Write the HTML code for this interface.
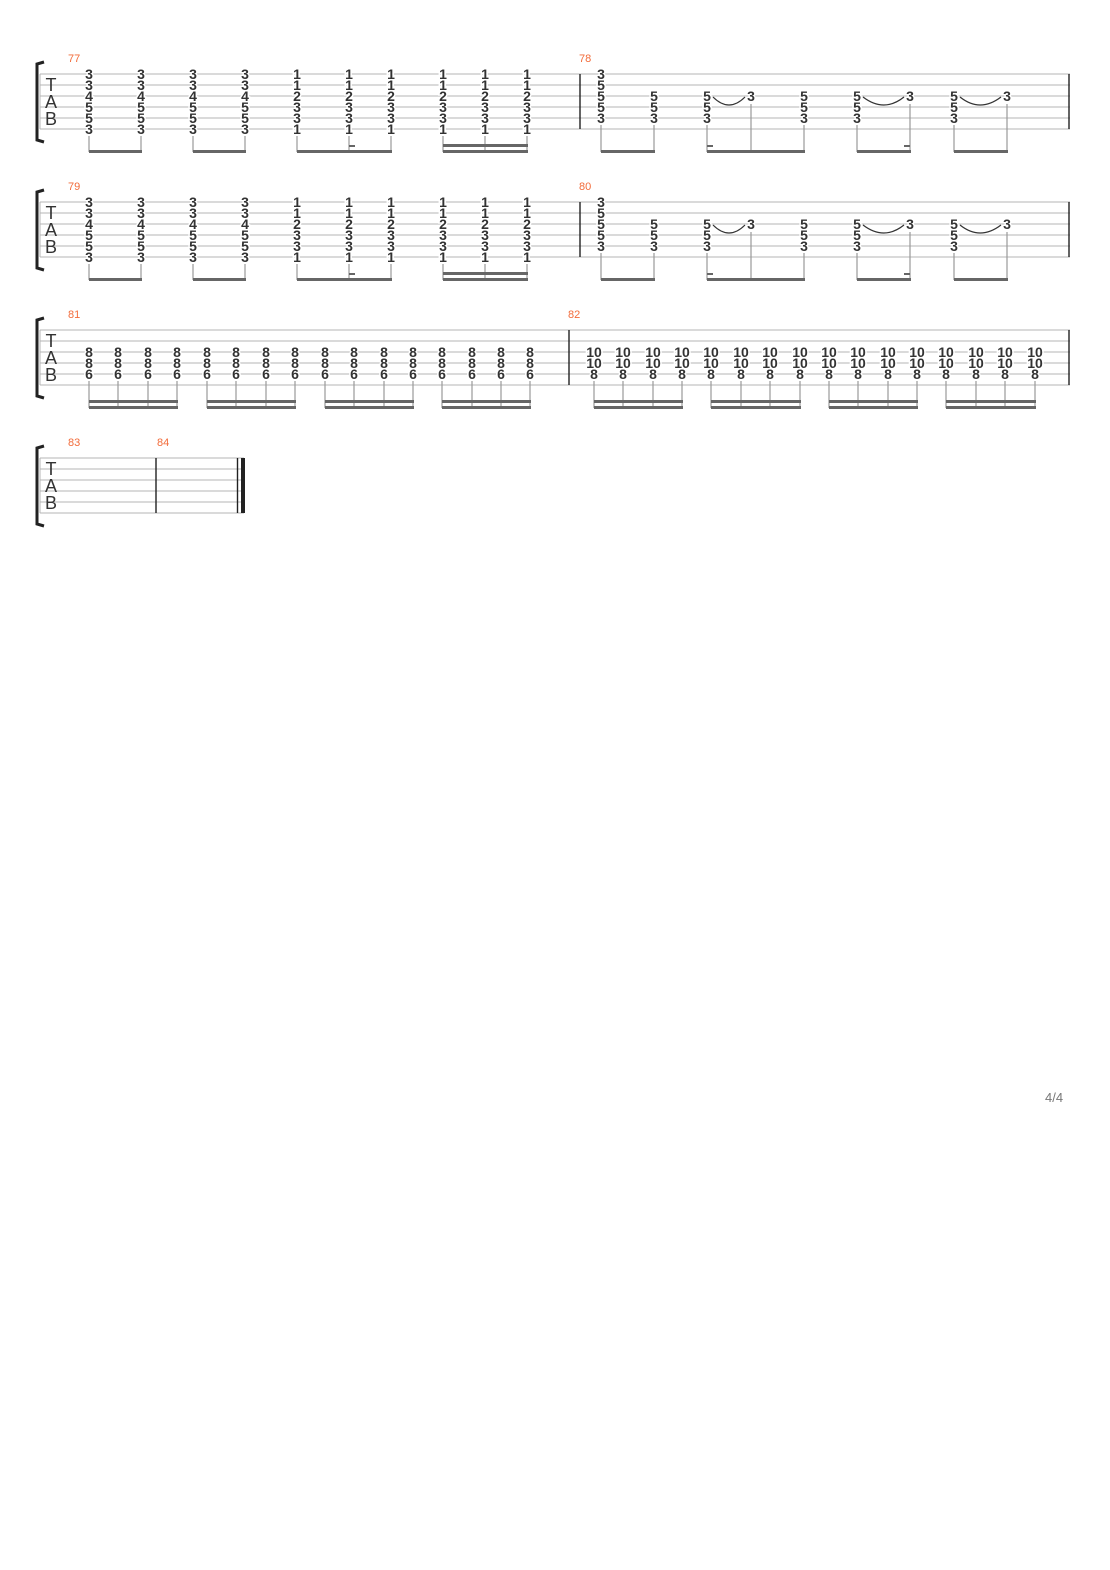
<!DOCTYPE html>
<html><head><meta charset="utf-8"><style>
html,body{margin:0;padding:0;background:#fff}
svg{display:block}
.n{font:bold 14px "Liberation Sans",sans-serif;text-anchor:middle;fill:#333;stroke:#fff;stroke-width:3;paint-order:stroke;transform:translateY(1px)}
.m{font:11px "Liberation Sans",sans-serif;fill:#f26b3a}
.t{font:18px "Liberation Sans",sans-serif;fill:#333;text-anchor:middle}
.l{stroke:#b4b4b4;stroke-width:1}
.b{stroke:#222;stroke-width:1.4}
.s{stroke:#999;stroke-width:1.2}
.bm{fill:#666}
</style></head><body>
<svg width="1110" height="1570" xmlns="http://www.w3.org/2000/svg">
<!-- System 1 -->
<g>
<path d="M44 62 L37 64 L37 140 L44 142" fill="none" stroke="#222" stroke-width="3"/>
<g class="l"><line x1="40" y1="74" x2="1070" y2="74"/><line x1="40" y1="85" x2="1070" y2="85"/><line x1="40" y1="96" x2="1070" y2="96"/><line x1="40" y1="107" x2="1070" y2="107"/><line x1="40" y1="118" x2="1070" y2="118"/><line x1="40" y1="129" x2="1070" y2="129"/><line x1="40" y1="74" x2="40" y2="129"/></g>
<line class="b" x1="580" y1="74" x2="580" y2="129"/><line class="b" x1="1069" y1="74" x2="1069" y2="129"/>
<text class="t" x="51" y="91">T</text><text class="t" x="51" y="108">A</text><text class="t" x="51" y="125">B</text>
<text class="m" x="68" y="62">77</text><text class="m" x="579" y="62">78</text>
<text class="n"><tspan x="89" y="78">3</tspan><tspan x="89" y="89">3</tspan><tspan x="89" y="100">4</tspan><tspan x="89" y="111">5</tspan><tspan x="89" y="122">5</tspan><tspan x="89" y="133">3</tspan></text>
<text class="n"><tspan x="141" y="78">3</tspan><tspan x="141" y="89">3</tspan><tspan x="141" y="100">4</tspan><tspan x="141" y="111">5</tspan><tspan x="141" y="122">5</tspan><tspan x="141" y="133">3</tspan></text>
<text class="n"><tspan x="193" y="78">3</tspan><tspan x="193" y="89">3</tspan><tspan x="193" y="100">4</tspan><tspan x="193" y="111">5</tspan><tspan x="193" y="122">5</tspan><tspan x="193" y="133">3</tspan></text>
<text class="n"><tspan x="245" y="78">3</tspan><tspan x="245" y="89">3</tspan><tspan x="245" y="100">4</tspan><tspan x="245" y="111">5</tspan><tspan x="245" y="122">5</tspan><tspan x="245" y="133">3</tspan></text>
<text class="n"><tspan x="297" y="78">1</tspan><tspan x="297" y="89">1</tspan><tspan x="297" y="100">2</tspan><tspan x="297" y="111">3</tspan><tspan x="297" y="122">3</tspan><tspan x="297" y="133">1</tspan></text>
<text class="n"><tspan x="349" y="78">1</tspan><tspan x="349" y="89">1</tspan><tspan x="349" y="100">2</tspan><tspan x="349" y="111">3</tspan><tspan x="349" y="122">3</tspan><tspan x="349" y="133">1</tspan></text>
<text class="n"><tspan x="391" y="78">1</tspan><tspan x="391" y="89">1</tspan><tspan x="391" y="100">2</tspan><tspan x="391" y="111">3</tspan><tspan x="391" y="122">3</tspan><tspan x="391" y="133">1</tspan></text>
<text class="n"><tspan x="443" y="78">1</tspan><tspan x="443" y="89">1</tspan><tspan x="443" y="100">2</tspan><tspan x="443" y="111">3</tspan><tspan x="443" y="122">3</tspan><tspan x="443" y="133">1</tspan></text>
<text class="n"><tspan x="485" y="78">1</tspan><tspan x="485" y="89">1</tspan><tspan x="485" y="100">2</tspan><tspan x="485" y="111">3</tspan><tspan x="485" y="122">3</tspan><tspan x="485" y="133">1</tspan></text>
<text class="n"><tspan x="527" y="78">1</tspan><tspan x="527" y="89">1</tspan><tspan x="527" y="100">2</tspan><tspan x="527" y="111">3</tspan><tspan x="527" y="122">3</tspan><tspan x="527" y="133">1</tspan></text>
<text class="n"><tspan x="601" y="78">3</tspan><tspan x="601" y="89">5</tspan><tspan x="601" y="100">5</tspan><tspan x="601" y="111">5</tspan><tspan x="601" y="122">3</tspan></text>
<text class="n"><tspan x="654" y="100">5</tspan><tspan x="654" y="111">5</tspan><tspan x="654" y="122">3</tspan></text>
<text class="n"><tspan x="707" y="100">5</tspan><tspan x="707" y="111">5</tspan><tspan x="707" y="122">3</tspan></text>
<text class="n"><tspan x="751" y="100">3</tspan></text>
<text class="n"><tspan x="804" y="100">5</tspan><tspan x="804" y="111">5</tspan><tspan x="804" y="122">3</tspan></text>
<text class="n"><tspan x="857" y="100">5</tspan><tspan x="857" y="111">5</tspan><tspan x="857" y="122">3</tspan></text>
<text class="n"><tspan x="910" y="100">3</tspan></text>
<text class="n"><tspan x="954" y="100">5</tspan><tspan x="954" y="111">5</tspan><tspan x="954" y="122">3</tspan></text>
<text class="n"><tspan x="1007" y="100">3</tspan></text>
<g fill="none" stroke="#333" stroke-width="1.2"><path d="M713 97 Q729 113 745 97"/><path d="M863 97 Q884 113 904 97"/><path d="M960 97 Q980 113 1001 97"/></g>
<g class="s"><line x1="89" y1="136" x2="89" y2="152"/><line x1="141" y1="136" x2="141" y2="152"/><line x1="193" y1="136" x2="193" y2="152"/><line x1="245" y1="136" x2="245" y2="152"/><line x1="297" y1="136" x2="297" y2="152"/><line x1="349" y1="136" x2="349" y2="152"/><line x1="391" y1="136" x2="391" y2="152"/><line x1="443" y1="136" x2="443" y2="152"/><line x1="485" y1="136" x2="485" y2="152"/><line x1="527" y1="136" x2="527" y2="152"/>
<line x1="601" y1="125" x2="601" y2="152"/><line x1="654" y1="125" x2="654" y2="152"/><line x1="707" y1="125" x2="707" y2="152"/><line x1="751" y1="104" x2="751" y2="152"/><line x1="804" y1="125" x2="804" y2="152"/><line x1="857" y1="125" x2="857" y2="152"/><line x1="910" y1="104" x2="910" y2="152"/><line x1="954" y1="125" x2="954" y2="152"/><line x1="1007" y1="104" x2="1007" y2="152"/></g>
<g class="bm"><rect x="89" y="150" width="53" height="3"/><rect x="193" y="150" width="53" height="3"/><rect x="297" y="150" width="95" height="3"/><rect x="349" y="145" width="6" height="2"/><rect x="443" y="144" width="85" height="3"/><rect x="443" y="150" width="85" height="3"/>
<rect x="601" y="150" width="54" height="3"/><rect x="707" y="150" width="98" height="3"/><rect x="707" y="145" width="6" height="2"/><rect x="857" y="150" width="54" height="3"/><rect x="904" y="145" width="6" height="2"/><rect x="954" y="150" width="54" height="3"/></g>
</g>
<!-- System 2 -->
<g transform="translate(0,128)">
<path d="M44 62 L37 64 L37 140 L44 142" fill="none" stroke="#222" stroke-width="3"/>
<g class="l"><line x1="40" y1="74" x2="1070" y2="74"/><line x1="40" y1="85" x2="1070" y2="85"/><line x1="40" y1="96" x2="1070" y2="96"/><line x1="40" y1="107" x2="1070" y2="107"/><line x1="40" y1="118" x2="1070" y2="118"/><line x1="40" y1="129" x2="1070" y2="129"/><line x1="40" y1="74" x2="40" y2="129"/></g>
<line class="b" x1="580" y1="74" x2="580" y2="129"/><line class="b" x1="1069" y1="74" x2="1069" y2="129"/>
<text class="t" x="51" y="91">T</text><text class="t" x="51" y="108">A</text><text class="t" x="51" y="125">B</text>
<text class="m" x="68" y="62">79</text><text class="m" x="579" y="62">80</text>
<text class="n"><tspan x="89" y="78">3</tspan><tspan x="89" y="89">3</tspan><tspan x="89" y="100">4</tspan><tspan x="89" y="111">5</tspan><tspan x="89" y="122">5</tspan><tspan x="89" y="133">3</tspan></text>
<text class="n"><tspan x="141" y="78">3</tspan><tspan x="141" y="89">3</tspan><tspan x="141" y="100">4</tspan><tspan x="141" y="111">5</tspan><tspan x="141" y="122">5</tspan><tspan x="141" y="133">3</tspan></text>
<text class="n"><tspan x="193" y="78">3</tspan><tspan x="193" y="89">3</tspan><tspan x="193" y="100">4</tspan><tspan x="193" y="111">5</tspan><tspan x="193" y="122">5</tspan><tspan x="193" y="133">3</tspan></text>
<text class="n"><tspan x="245" y="78">3</tspan><tspan x="245" y="89">3</tspan><tspan x="245" y="100">4</tspan><tspan x="245" y="111">5</tspan><tspan x="245" y="122">5</tspan><tspan x="245" y="133">3</tspan></text>
<text class="n"><tspan x="297" y="78">1</tspan><tspan x="297" y="89">1</tspan><tspan x="297" y="100">2</tspan><tspan x="297" y="111">3</tspan><tspan x="297" y="122">3</tspan><tspan x="297" y="133">1</tspan></text>
<text class="n"><tspan x="349" y="78">1</tspan><tspan x="349" y="89">1</tspan><tspan x="349" y="100">2</tspan><tspan x="349" y="111">3</tspan><tspan x="349" y="122">3</tspan><tspan x="349" y="133">1</tspan></text>
<text class="n"><tspan x="391" y="78">1</tspan><tspan x="391" y="89">1</tspan><tspan x="391" y="100">2</tspan><tspan x="391" y="111">3</tspan><tspan x="391" y="122">3</tspan><tspan x="391" y="133">1</tspan></text>
<text class="n"><tspan x="443" y="78">1</tspan><tspan x="443" y="89">1</tspan><tspan x="443" y="100">2</tspan><tspan x="443" y="111">3</tspan><tspan x="443" y="122">3</tspan><tspan x="443" y="133">1</tspan></text>
<text class="n"><tspan x="485" y="78">1</tspan><tspan x="485" y="89">1</tspan><tspan x="485" y="100">2</tspan><tspan x="485" y="111">3</tspan><tspan x="485" y="122">3</tspan><tspan x="485" y="133">1</tspan></text>
<text class="n"><tspan x="527" y="78">1</tspan><tspan x="527" y="89">1</tspan><tspan x="527" y="100">2</tspan><tspan x="527" y="111">3</tspan><tspan x="527" y="122">3</tspan><tspan x="527" y="133">1</tspan></text>
<text class="n"><tspan x="601" y="78">3</tspan><tspan x="601" y="89">5</tspan><tspan x="601" y="100">5</tspan><tspan x="601" y="111">5</tspan><tspan x="601" y="122">3</tspan></text>
<text class="n"><tspan x="654" y="100">5</tspan><tspan x="654" y="111">5</tspan><tspan x="654" y="122">3</tspan></text>
<text class="n"><tspan x="707" y="100">5</tspan><tspan x="707" y="111">5</tspan><tspan x="707" y="122">3</tspan></text>
<text class="n"><tspan x="751" y="100">3</tspan></text>
<text class="n"><tspan x="804" y="100">5</tspan><tspan x="804" y="111">5</tspan><tspan x="804" y="122">3</tspan></text>
<text class="n"><tspan x="857" y="100">5</tspan><tspan x="857" y="111">5</tspan><tspan x="857" y="122">3</tspan></text>
<text class="n"><tspan x="910" y="100">3</tspan></text>
<text class="n"><tspan x="954" y="100">5</tspan><tspan x="954" y="111">5</tspan><tspan x="954" y="122">3</tspan></text>
<text class="n"><tspan x="1007" y="100">3</tspan></text>
<g fill="none" stroke="#333" stroke-width="1.2"><path d="M713 97 Q729 113 745 97"/><path d="M863 97 Q884 113 904 97"/><path d="M960 97 Q980 113 1001 97"/></g>
<g class="s"><line x1="89" y1="136" x2="89" y2="152"/><line x1="141" y1="136" x2="141" y2="152"/><line x1="193" y1="136" x2="193" y2="152"/><line x1="245" y1="136" x2="245" y2="152"/><line x1="297" y1="136" x2="297" y2="152"/><line x1="349" y1="136" x2="349" y2="152"/><line x1="391" y1="136" x2="391" y2="152"/><line x1="443" y1="136" x2="443" y2="152"/><line x1="485" y1="136" x2="485" y2="152"/><line x1="527" y1="136" x2="527" y2="152"/>
<line x1="601" y1="125" x2="601" y2="152"/><line x1="654" y1="125" x2="654" y2="152"/><line x1="707" y1="125" x2="707" y2="152"/><line x1="751" y1="104" x2="751" y2="152"/><line x1="804" y1="125" x2="804" y2="152"/><line x1="857" y1="125" x2="857" y2="152"/><line x1="910" y1="104" x2="910" y2="152"/><line x1="954" y1="125" x2="954" y2="152"/><line x1="1007" y1="104" x2="1007" y2="152"/></g>
<g class="bm"><rect x="89" y="150" width="53" height="3"/><rect x="193" y="150" width="53" height="3"/><rect x="297" y="150" width="95" height="3"/><rect x="349" y="145" width="6" height="2"/><rect x="443" y="144" width="85" height="3"/><rect x="443" y="150" width="85" height="3"/>
<rect x="601" y="150" width="54" height="3"/><rect x="707" y="150" width="98" height="3"/><rect x="707" y="145" width="6" height="2"/><rect x="857" y="150" width="54" height="3"/><rect x="904" y="145" width="6" height="2"/><rect x="954" y="150" width="54" height="3"/></g>
</g>
<!-- System 3 -->
<g>
<path d="M44 318 L37 320 L37 396 L44 398" fill="none" stroke="#222" stroke-width="3"/>
<g class="l"><line x1="40" y1="330" x2="1070" y2="330"/><line x1="40" y1="341" x2="1070" y2="341"/><line x1="40" y1="352" x2="1070" y2="352"/><line x1="40" y1="363" x2="1070" y2="363"/><line x1="40" y1="374" x2="1070" y2="374"/><line x1="40" y1="385" x2="1070" y2="385"/><line x1="40" y1="330" x2="40" y2="385"/></g>
<line class="b" x1="569" y1="330" x2="569" y2="385"/><line class="b" x1="1069" y1="330" x2="1069" y2="385"/>
<text class="t" x="51" y="347">T</text><text class="t" x="51" y="364">A</text><text class="t" x="51" y="381">B</text>
<text class="m" x="68" y="318">81</text><text class="m" x="568" y="318">82</text>
<text class="n"><tspan x="89" y="356">8</tspan><tspan x="89" y="367">8</tspan><tspan x="89" y="378">6</tspan><tspan x="118" y="356">8</tspan><tspan x="118" y="367">8</tspan><tspan x="118" y="378">6</tspan><tspan x="148" y="356">8</tspan><tspan x="148" y="367">8</tspan><tspan x="148" y="378">6</tspan><tspan x="177" y="356">8</tspan><tspan x="177" y="367">8</tspan><tspan x="177" y="378">6</tspan><tspan x="207" y="356">8</tspan><tspan x="207" y="367">8</tspan><tspan x="207" y="378">6</tspan><tspan x="236" y="356">8</tspan><tspan x="236" y="367">8</tspan><tspan x="236" y="378">6</tspan><tspan x="266" y="356">8</tspan><tspan x="266" y="367">8</tspan><tspan x="266" y="378">6</tspan><tspan x="295" y="356">8</tspan><tspan x="295" y="367">8</tspan><tspan x="295" y="378">6</tspan><tspan x="325" y="356">8</tspan><tspan x="325" y="367">8</tspan><tspan x="325" y="378">6</tspan><tspan x="354" y="356">8</tspan><tspan x="354" y="367">8</tspan><tspan x="354" y="378">6</tspan><tspan x="384" y="356">8</tspan><tspan x="384" y="367">8</tspan><tspan x="384" y="378">6</tspan><tspan x="413" y="356">8</tspan><tspan x="413" y="367">8</tspan><tspan x="413" y="378">6</tspan><tspan x="442" y="356">8</tspan><tspan x="442" y="367">8</tspan><tspan x="442" y="378">6</tspan><tspan x="472" y="356">8</tspan><tspan x="472" y="367">8</tspan><tspan x="472" y="378">6</tspan><tspan x="501" y="356">8</tspan><tspan x="501" y="367">8</tspan><tspan x="501" y="378">6</tspan><tspan x="530" y="356">8</tspan><tspan x="530" y="367">8</tspan><tspan x="530" y="378">6</tspan></text>
<text class="n"><tspan x="594" y="356">10</tspan><tspan x="594" y="367">10</tspan><tspan x="594" y="378">8</tspan><tspan x="623" y="356">10</tspan><tspan x="623" y="367">10</tspan><tspan x="623" y="378">8</tspan><tspan x="653" y="356">10</tspan><tspan x="653" y="367">10</tspan><tspan x="653" y="378">8</tspan><tspan x="682" y="356">10</tspan><tspan x="682" y="367">10</tspan><tspan x="682" y="378">8</tspan><tspan x="711" y="356">10</tspan><tspan x="711" y="367">10</tspan><tspan x="711" y="378">8</tspan><tspan x="741" y="356">10</tspan><tspan x="741" y="367">10</tspan><tspan x="741" y="378">8</tspan><tspan x="770" y="356">10</tspan><tspan x="770" y="367">10</tspan><tspan x="770" y="378">8</tspan><tspan x="800" y="356">10</tspan><tspan x="800" y="367">10</tspan><tspan x="800" y="378">8</tspan><tspan x="829" y="356">10</tspan><tspan x="829" y="367">10</tspan><tspan x="829" y="378">8</tspan><tspan x="858" y="356">10</tspan><tspan x="858" y="367">10</tspan><tspan x="858" y="378">8</tspan><tspan x="888" y="356">10</tspan><tspan x="888" y="367">10</tspan><tspan x="888" y="378">8</tspan><tspan x="917" y="356">10</tspan><tspan x="917" y="367">10</tspan><tspan x="917" y="378">8</tspan><tspan x="946" y="356">10</tspan><tspan x="946" y="367">10</tspan><tspan x="946" y="378">8</tspan><tspan x="976" y="356">10</tspan><tspan x="976" y="367">10</tspan><tspan x="976" y="378">8</tspan><tspan x="1005" y="356">10</tspan><tspan x="1005" y="367">10</tspan><tspan x="1005" y="378">8</tspan><tspan x="1035" y="356">10</tspan><tspan x="1035" y="367">10</tspan><tspan x="1035" y="378">8</tspan></text>
<g class="s"><line x1="89" y1="381" x2="89" y2="408"/><line x1="118" y1="381" x2="118" y2="408"/><line x1="148" y1="381" x2="148" y2="408"/><line x1="177" y1="381" x2="177" y2="408"/><line x1="207" y1="381" x2="207" y2="408"/><line x1="236" y1="381" x2="236" y2="408"/><line x1="266" y1="381" x2="266" y2="408"/><line x1="295" y1="381" x2="295" y2="408"/><line x1="325" y1="381" x2="325" y2="408"/><line x1="354" y1="381" x2="354" y2="408"/><line x1="384" y1="381" x2="384" y2="408"/><line x1="413" y1="381" x2="413" y2="408"/><line x1="442" y1="381" x2="442" y2="408"/><line x1="472" y1="381" x2="472" y2="408"/><line x1="501" y1="381" x2="501" y2="408"/><line x1="530" y1="381" x2="530" y2="408"/>
<line x1="594" y1="381" x2="594" y2="408"/><line x1="623" y1="381" x2="623" y2="408"/><line x1="653" y1="381" x2="653" y2="408"/><line x1="682" y1="381" x2="682" y2="408"/><line x1="711" y1="381" x2="711" y2="408"/><line x1="741" y1="381" x2="741" y2="408"/><line x1="770" y1="381" x2="770" y2="408"/><line x1="800" y1="381" x2="800" y2="408"/><line x1="829" y1="381" x2="829" y2="408"/><line x1="858" y1="381" x2="858" y2="408"/><line x1="888" y1="381" x2="888" y2="408"/><line x1="917" y1="381" x2="917" y2="408"/><line x1="946" y1="381" x2="946" y2="408"/><line x1="976" y1="381" x2="976" y2="408"/><line x1="1005" y1="381" x2="1005" y2="408"/><line x1="1035" y1="381" x2="1035" y2="408"/></g>
<g class="bm"><rect x="89" y="400" width="89" height="3"/><rect x="89" y="406" width="89" height="3"/><rect x="207" y="400" width="89" height="3"/><rect x="207" y="406" width="89" height="3"/><rect x="325" y="400" width="89" height="3"/><rect x="325" y="406" width="89" height="3"/><rect x="442" y="400" width="89" height="3"/><rect x="442" y="406" width="89" height="3"/>
<rect x="594" y="400" width="89" height="3"/><rect x="594" y="406" width="89" height="3"/><rect x="711" y="400" width="90" height="3"/><rect x="711" y="406" width="90" height="3"/><rect x="829" y="400" width="89" height="3"/><rect x="829" y="406" width="89" height="3"/><rect x="946" y="400" width="90" height="3"/><rect x="946" y="406" width="90" height="3"/></g>
</g>
<!-- System 4 -->
<g>
<path d="M44 446 L37 448 L37 524 L44 526" fill="none" stroke="#222" stroke-width="3"/>
<g class="l"><line x1="40" y1="458" x2="244" y2="458"/><line x1="40" y1="469" x2="244" y2="469"/><line x1="40" y1="480" x2="244" y2="480"/><line x1="40" y1="491" x2="244" y2="491"/><line x1="40" y1="502" x2="244" y2="502"/><line x1="40" y1="513" x2="244" y2="513"/><line x1="40" y1="458" x2="40" y2="513"/></g>
<line class="b" x1="156" y1="458" x2="156" y2="513"/><line class="b" x1="237.5" y1="458" x2="237.5" y2="513"/><rect x="241" y="458" width="4" height="55" fill="#222"/>
<text class="t" x="51" y="475">T</text><text class="t" x="51" y="492">A</text><text class="t" x="51" y="509">B</text>
<text class="m" x="68" y="446">83</text><text class="m" x="157" y="446">84</text>
</g>
<text x="1045" y="1102" style="font:13px 'Liberation Sans',sans-serif;fill:#777">4/4</text>
</svg>
</body></html>
